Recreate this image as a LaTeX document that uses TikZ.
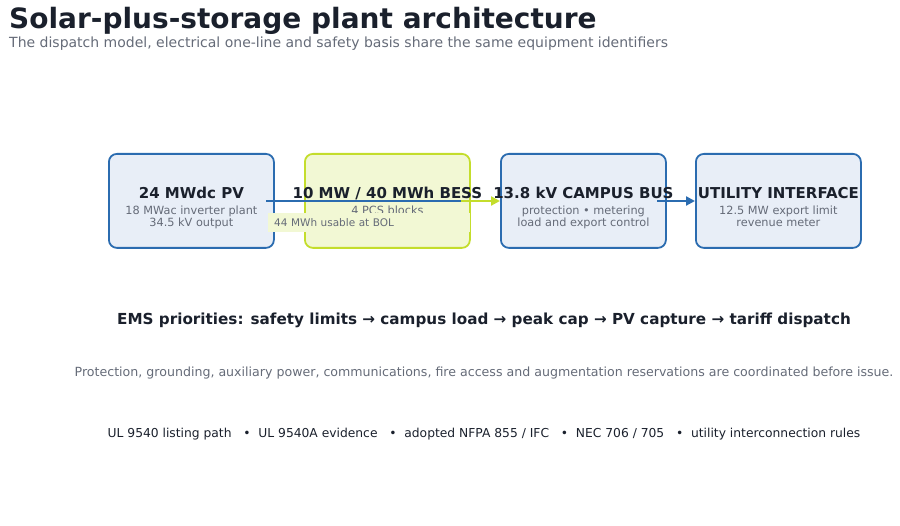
\documentclass[tikz,border=0pt]{standalone}
\usepackage{fontspec}
\setmainfont{DejaVu Sans}
\usetikzlibrary{arrows.meta}
\definecolor{bl}{HTML}{2B6CB0}
\definecolor{blf}{HTML}{E8EEF7}
\definecolor{gr}{HTML}{C4DD2C}
\definecolor{grf}{HTML}{F2F8D4}
\definecolor{dk}{HTML}{1A202C}
\definecolor{gy}{HTML}{656B78}
\begin{document}
\begin{tikzpicture}[x=1pt,y=-1pt,
  box/.style={draw=bl,fill=blf,line width=1.8pt,rounded corners=8pt,minimum width=165pt,minimum height=94pt,anchor=north west},
  gbox/.style={box,draw=gr,fill=grf},
  ttl/.style={font=\bfseries\fontsize{15}{18}\selectfont,text=dk},
  sub/.style={font=\fontsize{11.3}{13}\selectfont,text=gy,align=center},
  con/.style={line width=2.2pt}]
\useasboundingbox (0,0) rectangle (900,526);
\node[anchor=base west,font=\bfseries\fontsize{28}{30}\selectfont,text=dk,inner xsep=0pt] (t) at (9,29) {Solar-plus-storage plant architecture};
\node[anchor=base west,font=\fontsize{14}{16}\selectfont,text=gy,inner xsep=0pt] (s) at (9,48) {The dispatch model, electrical one-line and safety basis share the same equipment identifiers};
\node[box] (pv) at (108,153) {};
\node[gbox] (bess) at (304,153) {};
\node[box] (bus) at (500,153) {};
\node[box] (ut) at (695,153) {};
\foreach \n/\a/\b/\c in {pv/{24 MWdc PV}/{18 MWac inverter plant}/{34.5 kV output},
  bess/{10 MW / 40 MWh BESS}/{4 PCS blocks}/{},
  bus/{13.8 kV CAMPUS BUS}/{protection • metering}/{load and export control},
  ut/{UTILITY INTERFACE}/{12.5 MW export limit}/{revenue meter}}{
  \node[ttl,anchor=base] (\n t) at ([yshift=2pt]\n.center) {\a};
  \node[sub,anchor=base] (\n a) at ([yshift=-16pt]\n t.base) {\b};
  \node[sub,anchor=base] (\n b) at ([yshift=-12pt]\n a.base) {\c};
}
\coordinate (m1) at (461,201);
\draw[con,bl] (266,201) -- (m1);
\draw[con,gr,-{Triangle[length=9pt,width=9pt]}] (m1) -- (bus.west|-m1);
\draw[con,bl,-{Triangle[length=9pt,width=9pt]}] (657,201) -- (ut.west|-m1);
\node[fill=grf,anchor=north west,minimum width=202pt,minimum height=19pt,text width=190pt,font=\fontsize{10.5}{12}\selectfont,text=gy,inner xsep=6pt] (lab) at (268,213) {44 MWh usable at BOL};
\node[anchor=base,font=\bfseries\fontsize{15.2}{18}\selectfont,text=dk] (ems) at (484,325) {EMS priorities: safety limits → campus load → peak cap → PV capture → tariff dispatch};
\node[anchor=base,font=\fontsize{12.6}{15}\selectfont,text=gy] (pr) at (484,377) {Protection, grounding, auxiliary power, communications, fire access and augmentation reservations are coordinated before issue.};
\node[anchor=base,font=\fontsize{12.3}{15}\selectfont,text=dk] (ul) at (484,438) {UL 9540 listing path \ \ •\ \ UL 9540A evidence \ \ •\ \ adopted NFPA 855 / IFC \ \ •\ \ NEC 706 / 705 \ \ •\ \ utility interconnection rules};
\end{tikzpicture}
\end{document}
